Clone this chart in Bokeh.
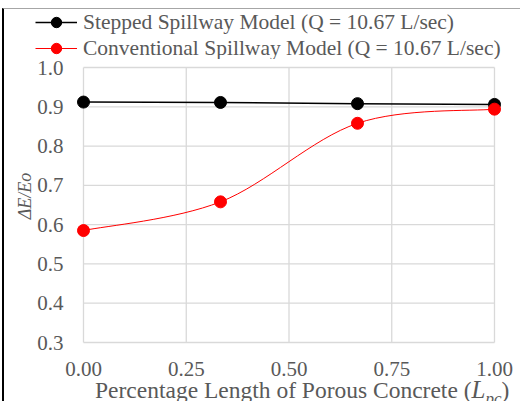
from bokeh.plotting import figure
from bokeh.layouts import column
from bokeh.models import Range1d, Legend, LegendItem, FixedTicker, Div
from bokeh.embed import file_html
from bokeh.resources import INLINE

# ---- data ----
x_vals = [0.0, 1/3, 2/3, 1.0]
stepped = [0.912, 0.911, 0.908, 0.906]
conventional = [0.585, 0.658, 0.858, 0.894]
x_ticks = [0.0, 0.25, 0.5, 0.75, 1.0]
y_ticks = [0.3, 0.4, 0.5, 0.6, 0.7, 0.8, 0.9, 1.0]
x_tick_labels = {0.0: "0.00", 0.25: "0.25", 0.5: "0.50", 0.75: "0.75", 1.0: "1.00"}
stepped_label = "Stepped Spillway Model (Q = 10.67 L/sec)"
conv_label = "Conventional Spillway Model (Q = 10.67 L/sec)"
x_title_main = "Percentage Length of Porous Concrete ("
x_title_var = "L"
x_title_sub = "pc"
x_title_end = ")"
y_title = "ΔE/Eo"

FONT = "Liberation Serif"
TXT = "#595959"
GRID = "#d9d9d9"
STEP_COLOR = "black"
CONV_COLOR = "red"

x_lo, x_hi = x_ticks[0], x_ticks[-1]
y_lo, y_hi = y_ticks[0], y_ticks[-1]
xpad = (x_hi - x_lo) * 8 / 411
ypad = (y_hi - y_lo) * 8 / 275

# ---------------- main chart ----------------
p = figure(width=516, height=324, output_backend="svg", toolbar_location=None,
           x_range=Range1d(x_lo - xpad, x_hi + xpad),
           y_range=Range1d(y_lo - ypad, y_hi + ypad),
           min_border_left=71, min_border_right=18, min_border_top=0, min_border_bottom=33)
p.outline_line_color = None
p.background_fill_color = "white"
p.border_fill_color = "white"
p.grid.visible = False

# grid lines drawn at tick positions, limited to the tick span
p.segment(x0=x_ticks, y0=[y_lo]*len(x_ticks), x1=x_ticks, y1=[y_hi]*len(x_ticks),
          line_color=GRID, line_width=1.3)
p.segment(x0=[x_lo]*len(y_ticks), y0=y_ticks, x1=[x_hi]*len(y_ticks), y1=y_ticks,
          line_color=GRID, line_width=1.3)

# axes
p.xaxis.ticker = FixedTicker(ticks=x_ticks)
p.yaxis.ticker = FixedTicker(ticks=y_ticks)
p.xaxis.major_label_overrides = x_tick_labels
p.yaxis.major_label_overrides = {t: f"{t:.1f}" for t in y_ticks}
for ax in (p.xaxis, p.yaxis):
    ax.axis_line_color = None
    ax.major_tick_line_color = None
    ax.minor_tick_line_color = None
    ax.major_tick_out = 0
    ax.major_tick_in = 0
    ax.major_label_text_font = FONT
    ax.major_label_text_font_size = "21px"
    ax.major_label_text_color = TXT
p.xaxis.major_label_standoff = 11
p.yaxis.major_label_standoff = 12
p.yaxis.axis_label = "\u00a0\u00a0\u00a0\u00a0" + y_title
p.yaxis.axis_label_text_font = FONT
p.yaxis.axis_label_text_font_style = "italic"
p.yaxis.axis_label_text_font_size = "18px"
p.yaxis.axis_label_text_color = TXT
p.yaxis.axis_label_standoff = -1

# stepped series
p.line(x_vals, stepped, line_color=STEP_COLOR, line_width=1.5)
p.scatter(x_vals, stepped, size=12, fill_color=STEP_COLOR, line_color=STEP_COLOR)

# conventional series: smooth (Catmull-Rom style) bezier through the points
n = len(x_vals)
x0s, y0s, x1s, y1s, cx0s, cy0s, cx1s, cy1s = [], [], [], [], [], [], [], []
for i in range(n - 1):
    im1 = max(i - 1, 0)
    ip2 = min(i + 2, n - 1)
    x0s.append(x_vals[i]); y0s.append(conventional[i])
    x1s.append(x_vals[i + 1]); y1s.append(conventional[i + 1])
    cx0s.append(x_vals[i] + (x_vals[i + 1] - x_vals[im1]) / 6)
    cy0s.append(conventional[i] + (conventional[i + 1] - conventional[im1]) / 6)
    cx1s.append(x_vals[i + 1] - (x_vals[ip2] - x_vals[i]) / 6)
    cy1s.append(conventional[i + 1] - (conventional[ip2] - conventional[i]) / 6)
p.bezier(x0=x0s, y0=y0s, x1=x1s, y1=y1s, cx0=cx0s, cy0=cy0s, cx1=cx1s, cy1=cy1s,
         line_color=CONV_COLOR, line_width=1)
p.scatter(x_vals, conventional, size=12, fill_color=CONV_COLOR, line_color=CONV_COLOR)

# ---------------- legend strip (above the chart) ----------------
lg = figure(width=516, height=50, output_backend="svg", toolbar_location=None,
            x_range=Range1d(0, 1), y_range=Range1d(0, 1),
            x_axis_type=None, y_axis_type=None,
            min_border_left=0, min_border_right=0, min_border_top=0, min_border_bottom=0)
lg.outline_line_color = None
lg.grid.visible = False
nan = [float("nan")]
k_step_l = lg.line(nan, nan, line_color=STEP_COLOR, line_width=1.5)
k_step_m = lg.scatter(nan, nan, size=12, fill_color=STEP_COLOR, line_color=STEP_COLOR)
k_conv_l = lg.line(nan, nan, line_color=CONV_COLOR, line_width=1)
k_conv_m = lg.scatter(nan, nan, size=12, fill_color=CONV_COLOR, line_color=CONV_COLOR)
legend = Legend(items=[LegendItem(label=stepped_label, renderers=[k_step_l, k_step_m]),
                       LegendItem(label=conv_label, renderers=[k_conv_l, k_conv_m])],
                location=(31, -2), orientation="vertical",
                label_text_font=FONT, label_text_font_size="21.5px", label_text_color=TXT,
                glyph_width=42, glyph_height=26, label_height=26, label_standoff=6,
                spacing=0, padding=0, margin=0,
                border_line_color=None, background_fill_alpha=0)
lg.add_layout(legend, "center")

# ---------------- x-axis title with italic subscripted variable ----------------
x_title_html = (f"{x_title_main}<i style='font-size:25px'>{x_title_var}"
                f"<sub style='font-size:17px;line-height:0'>{x_title_sub}</sub></i>"
                f"{x_title_end}")
title_div = Div(text=x_title_html, width=516, height=18, margin=(0, 0, 0, 0),
                styles={"font-family": FONT, "font-size": "23.5px", "color": TXT,
                        "line-height": "14px", "padding-left": "91px",
                        "white-space": "nowrap", "overflow": "visible"})

legend_box = column(lg, spacing=0, margin=(0, 0, 0, 0))
page = column(legend_box, p, title_div, spacing=0, margin=(8, 0, 0, 2),
              styles={"border-left": "2px solid black", "border-top": "1px solid #a6a6a6",
                      "background-color": "white"})

open("out.html", "w").write(file_html(page, INLINE))
